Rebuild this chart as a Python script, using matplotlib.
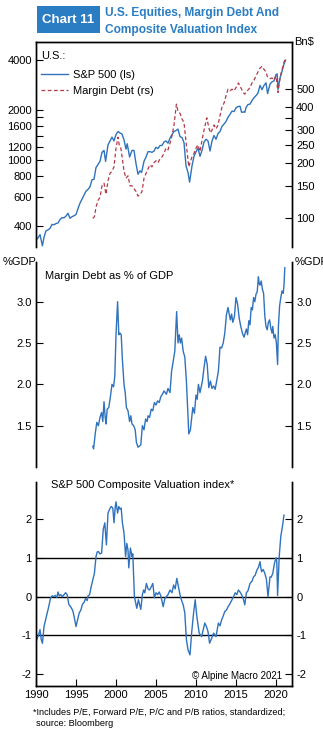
import numpy as np
import matplotlib
matplotlib.use('Agg')
import matplotlib.pyplot as plt
from matplotlib.ticker import FixedLocator, NullLocator, FixedFormatter

plt.rcParams['font.family'] = ['Liberation Sans', 'DejaVu Sans']
plt.rcParams['axes.unicode_minus'] = False

# S&P 500 (ls)
spx_t = [1990.0, 1990.25, 1990.5, 1990.8, 1991.0, 1991.25, 1991.5, 1991.75, 1992.0, 1992.25, 1992.5, 1992.75,
         1993.0, 1993.25, 1993.5, 1993.75, 1994.0, 1994.25, 1994.5, 1994.75, 1995.0, 1995.25, 1995.5, 1995.75,
         1996.0, 1996.25, 1996.5, 1996.75, 1997.0, 1997.25, 1997.5, 1997.75, 1998.0, 1998.25, 1998.5, 1998.7,
         1999.0, 1999.25, 1999.5, 1999.75, 2000.0, 2000.25, 2000.5, 2000.75, 2001.0, 2001.25, 2001.4, 2001.7,
         2002.0, 2002.25, 2002.5, 2002.75, 2003.0, 2003.2, 2003.5, 2003.75, 2004.0, 2004.25, 2004.5, 2004.75,
         2005.0, 2005.25, 2005.5, 2005.75, 2006.0, 2006.25, 2006.5, 2006.75, 2007.0, 2007.25, 2007.5, 2007.75,
         2008.0, 2008.25, 2008.5, 2008.75, 2009.0, 2009.2, 2009.5, 2009.75, 2010.0, 2010.25, 2010.5, 2010.75,
         2011.0, 2011.25, 2011.5, 2011.75, 2012.0, 2012.25, 2012.5, 2012.75, 2013.0, 2013.25, 2013.5, 2013.75,
         2014.0, 2014.25, 2014.5, 2014.75, 2015.0, 2015.25, 2015.5, 2015.7, 2016.0, 2016.1, 2016.25, 2016.5,
         2016.75, 2017.0, 2017.25, 2017.5, 2017.75, 2018.0, 2018.25, 2018.5, 2018.75, 2018.95, 2019.25, 2019.5,
         2019.75, 2020.0, 2020.15, 2020.25, 2020.5, 2020.75, 2021.0, 2021.2]
spx_v = [330, 340, 356, 305, 343, 375, 380, 388, 410, 408, 415, 418,
         438, 450, 449, 460, 478, 446, 456, 462, 470, 510, 550, 582,
         615, 650, 665, 690, 760, 765, 900, 940, 980, 1110, 1140, 980,
         1230, 1300, 1370, 1300, 1420, 1480, 1450, 1430, 1320, 1160, 1250, 1040,
         1140, 1140, 950, 820, 860, 840, 980, 1040, 1120, 1120, 1110, 1130,
         1190, 1170, 1220, 1220, 1280, 1300, 1260, 1350, 1420, 1480, 1500, 1530,
         1380, 1360, 1270, 920, 840, 735, 920, 1050, 1120, 1180, 1050, 1140,
         1280, 1330, 1300, 1130, 1300, 1400, 1330, 1440, 1480, 1590, 1640, 1700,
         1800, 1880, 1960, 1950, 2050, 2090, 2100, 1930, 1940, 1930, 2060, 2150,
         2160, 2270, 2360, 2430, 2520, 2800, 2640, 2800, 2900, 2500, 2850, 2940,
         2980, 3250, 3280, 2650, 3100, 3400, 3760, 3970]

# Margin debt, Bn$ (rs)
mdebt_t = [1997.1, 1997.3, 1997.5, 1997.75, 1998.0, 1998.25, 1998.5, 1998.75, 1999.0, 1999.25, 1999.5, 1999.75,
           2000.0, 2000.25, 2000.4, 2000.6, 2000.8, 2001.0, 2001.25, 2001.5, 2001.75, 2002.0, 2002.25, 2002.5,
           2002.75, 2003.0, 2003.25, 2003.5, 2003.75, 2004.0, 2004.25, 2004.5, 2004.75, 2005.0, 2005.25, 2005.5,
           2005.75, 2006.0, 2006.25, 2006.5, 2006.75, 2007.0, 2007.25, 2007.55, 2007.75, 2008.0, 2008.25, 2008.5,
           2008.75, 2009.1, 2009.25, 2009.5, 2009.75, 2010.0, 2010.25, 2010.5, 2010.75, 2011.0, 2011.35, 2011.6,
           2011.8, 2012.0, 2012.25, 2012.5, 2012.75, 2013.0, 2013.25, 2013.5, 2013.75, 2014.0, 2014.25, 2014.5,
           2014.75, 2015.0, 2015.3, 2015.6, 2015.9, 2016.1, 2016.3, 2016.5, 2016.75, 2017.0, 2017.25, 2017.5,
           2017.75, 2018.0, 2018.25, 2018.5, 2018.75, 2018.95, 2019.25, 2019.5, 2019.75, 2020.0, 2020.25, 2020.4,
           2020.6, 2020.8, 2021.0, 2021.15]
mdebt_v = [100, 102, 115, 125, 130, 150, 155, 135, 160, 175, 180, 190,
           240, 275, 250, 240, 210, 180, 165, 170, 150, 150, 145, 140,
           132, 134, 140, 165, 175, 185, 195, 190, 200, 205, 200, 210,
           215, 225, 240, 235, 255, 280, 320, 415, 380, 370, 345, 330,
           260, 190, 200, 215, 225, 240, 250, 230, 265, 300, 350, 310,
           290, 300, 320, 305, 320, 360, 400, 420, 460, 500, 490, 500,
           490, 510, 540, 510, 480, 470, 485, 495, 510, 540, 560, 590,
           620, 650, 665, 640, 620, 580, 570, 575, 560, 590, 480, 540,
           600, 650, 700, 730]

# Margin debt as % of GDP
mgdp_t = [1997.1, 1997.2, 1997.4, 1997.6, 1997.8, 1998.0, 1998.2, 1998.35, 1998.5, 1998.65, 1998.75, 1998.9,
          1999.1, 1999.3, 1999.5, 1999.7, 1999.85, 2000.0, 2000.2, 2000.35, 2000.5, 2000.65, 2000.8, 2001.0,
          2001.15, 2001.3, 2001.5, 2001.7, 2001.85, 2002.0, 2002.2, 2002.4, 2002.55, 2002.75, 2002.9, 2003.1,
          2003.3, 2003.5, 2003.7, 2003.9, 2004.0, 2004.2, 2004.4, 2004.6, 2004.8, 2005.0, 2005.2, 2005.4,
          2005.6, 2005.8, 2006.0, 2006.3, 2006.5, 2006.75, 2006.95, 2007.15, 2007.35, 2007.58, 2007.75, 2007.9,
          2008.05, 2008.2, 2008.4, 2008.6, 2008.8, 2009.1, 2009.3, 2009.6, 2009.8, 2010.0, 2010.15, 2010.3,
          2010.5, 2010.8, 2011.0, 2011.2, 2011.4, 2011.6, 2011.8, 2012.0, 2012.2, 2012.4, 2012.6, 2012.8,
          2013.0, 2013.2, 2013.4, 2013.6, 2013.8, 2014.0, 2014.15, 2014.3, 2014.45, 2014.6, 2014.8, 2015.0,
          2015.2, 2015.4, 2015.6, 2015.8, 2016.0, 2016.15, 2016.3, 2016.45, 2016.6, 2016.75, 2016.9, 2017.05,
          2017.2, 2017.35, 2017.5, 2017.65, 2017.8, 2017.9, 2018.0, 2018.15, 2018.3, 2018.45, 2018.6, 2018.75,
          2018.9, 2019.05, 2019.2, 2019.35, 2019.5, 2019.6, 2019.75, 2019.9, 2020.05, 2020.2, 2020.3, 2020.45,
          2020.6, 2020.75, 2020.9, 2021.0, 2021.1]
mgdp_v = [1.25, 1.22, 1.4, 1.54, 1.5, 1.6, 1.66, 1.55, 1.79, 1.6, 1.52, 1.7,
          1.72, 1.85, 2.0, 1.97, 2.1, 2.6, 3.0, 2.6, 2.62, 2.6, 2.3, 2.0,
          1.9, 1.72, 1.68, 1.55, 1.62, 1.52, 1.5, 1.45, 1.3, 1.24, 1.25, 1.27,
          1.5, 1.45, 1.58, 1.55, 1.62, 1.6, 1.7, 1.68, 1.78, 1.75, 1.8, 1.78,
          1.85, 1.88, 1.92, 1.88, 1.95, 1.9, 2.16, 2.28, 2.4, 2.88, 2.5, 2.6,
          2.5, 2.56, 2.4, 2.33, 2.04, 1.4, 1.45, 1.72, 1.65, 1.87, 1.82, 2.0,
          1.9, 2.04, 2.2, 2.34, 2.24, 1.96, 2.04, 1.95, 1.98, 1.94, 2.05, 2.16,
          2.45, 2.44, 2.5, 2.62, 2.84, 2.93, 2.85, 2.78, 2.85, 2.75, 2.82, 3.05,
          2.97, 2.8, 2.7, 2.62, 2.57, 2.62, 2.67, 2.6, 2.77, 2.72, 2.93, 2.9,
          3.05, 3.0, 3.09, 3.12, 3.3, 3.22, 3.2, 3.25, 3.15, 3.1, 2.83, 2.7,
          2.66, 2.75, 2.78, 2.68, 2.62, 2.7, 2.56, 2.6, 2.5, 2.24, 2.7, 2.95,
          3.05, 3.13, 3.1, 3.2, 3.41]

# S&P 500 composite valuation index (standardized)
val_t = [1990.0, 1990.1, 1990.3, 1990.5, 1990.65, 1990.8, 1990.9, 1991.0, 1991.2, 1991.4, 1991.6, 1991.8,
         1992.0, 1992.2, 1992.4, 1992.6, 1992.75, 1992.9, 1993.1, 1993.3, 1993.5, 1993.7, 1993.9, 1994.1,
         1994.3, 1994.6, 1994.8, 1995.0, 1995.2, 1995.4, 1995.6, 1995.8, 1996.0, 1996.2, 1996.4, 1996.5,
         1996.7, 1996.9, 1997.1, 1997.3, 1997.5, 1997.65, 1997.8, 1998.0, 1998.2, 1998.4, 1998.6, 1998.8,
         1999.0, 1999.2, 1999.4, 1999.6, 1999.75, 1999.9, 2000.0, 2000.2, 2000.35, 2000.5, 2000.65, 2000.8,
         2001.0, 2001.2, 2001.35, 2001.5, 2001.6, 2001.8, 2002.0, 2002.1, 2002.3, 2002.6, 2002.8, 2003.1,
         2003.3, 2003.45, 2003.6, 2003.8, 2004.0, 2004.2, 2004.4, 2004.6, 2004.8, 2005.0, 2005.2, 2005.4,
         2005.6, 2005.9, 2006.1, 2006.3, 2006.5, 2006.75, 2007.0, 2007.2, 2007.4, 2007.6, 2007.8, 2008.0,
         2008.2, 2008.4, 2008.6, 2008.8, 2009.0, 2009.25, 2009.45, 2009.7, 2009.9, 2010.1, 2010.4, 2010.7,
         2010.9, 2011.1, 2011.3, 2011.5, 2011.7, 2011.9, 2012.2, 2012.5, 2012.8, 2013.0, 2013.2, 2013.4,
         2013.6, 2013.8, 2014.0, 2014.2, 2014.5, 2014.7, 2014.9, 2015.1, 2015.3, 2015.5, 2015.7, 2015.9,
         2016.1, 2016.3, 2016.5, 2016.75, 2017.0, 2017.2, 2017.4, 2017.6, 2017.8, 2018.0, 2018.1, 2018.2,
         2018.4, 2018.6, 2018.8, 2019.0, 2019.25, 2019.4, 2019.6, 2019.8, 2020.0, 2020.1, 2020.2, 2020.4,
         2020.6, 2020.8, 2021.0]
val_v = [-1.18, -1.1, -1.0, -0.85, -1.1, -1.2, -1.0, -0.77, -0.6, -0.42, -0.25, -0.05,
         0.02, 0.0, 0.03, -0.02, 0.12, 0.02, 0.05, 0.0, 0.05, 0.1, 0.05, -0.2,
         -0.25, -0.36, -0.55, -0.77, -0.6, -0.42, -0.35, -0.2, -0.15, -0.05, -0.1, 0.02,
         0.05, 0.26, 0.43, 0.6, 1.03, 1.15, 1.16, 1.1, 1.12, 1.72, 1.9, 1.33,
         2.15, 2.25, 2.32, 2.28, 1.9, 2.3, 2.44, 2.15, 2.32, 2.25, 2.28, 1.9,
         1.64, 1.03, 1.37, 1.2, 0.74, 1.25, 1.03, 1.1, 0.0, -0.3, -0.08, -0.33,
         0.05, 0.17, 0.1, 0.34, 0.2, 0.17, 0.25, 0.34, -0.03, 0.1, 0.05, 0.12,
         0.02, -0.26, -0.05, 0.0, 0.05, 0.17, 0.1, 0.3, 0.2, 0.47, 0.26, 0.05,
         -0.1, -0.21, -0.42, -1.1, -1.37, -1.5, -0.94, -0.42, -0.08, -0.5, -0.94, -1.03,
         -0.85, -0.68, -0.77, -0.9, -1.2, -1.1, -0.94, -1.03, -0.68, -0.75, -0.6, -0.5,
         -0.38, -0.35, -0.26, -0.2, -0.08, 0.0, 0.1, 0.05, 0.17, 0.12, 0.05, -0.05,
         -0.21, 0.1, 0.15, 0.34, 0.4, 0.51, 0.55, 0.68, 0.75, 0.9, 0.75, 0.64,
         0.7, 0.6, 0.45, 0.0, 0.51, 0.5, 0.6, 0.85, 1.0, 0.9, 0.03, 1.03,
         1.55, 1.8, 2.1]

blue = '#2f72bd'
red = '#b23a48'
W, H = 323, 732


def rect(x0, y0, x1, y1):
    # pixel box (from top-left) -> figure fraction
    return [x0 / W, 1 - y1 / H, (x1 - x0) / W, (y1 - y0) / H]


fig = plt.figure(figsize=(W / 100, H / 100), dpi=100)
fs = 8

# title
fig.patches.append(plt.Rectangle((37 / W, 1 - 33 / H), 63 / W, 27 / H, transform=fig.transFigure,
                                 facecolor='#2a7cc3', edgecolor='none'))
fig.text(68 / W, 1 - 20 / H, 'Chart 11', color='white', fontsize=9.5, fontweight='bold', ha='center', va='center')
fig.text(105 / W, 1 - 13 / H, 'U.S. Equities, Margin Debt And', color='#2a7cc3', fontsize=8.6,
         fontweight='bold', ha='left', va='center')
fig.text(105 / W, 1 - 30 / H, 'Composite Valuation Index', color='#2a7cc3', fontsize=8.6,
         fontweight='bold', ha='left', va='center')


def style(ax, twin):
    for a in (ax, twin):
        a.tick_params(direction='in', length=5, width=0.8, labelsize=fs, pad=3)
        for s in a.spines.values():
            s.set_linewidth(1.0)
    ax.set_xlim(1990, 2022)


# ---- top panel
ax1 = fig.add_axes(rect(36, 42, 292, 247))
ax1r = ax1.twinx()
l1, = ax1.plot(spx_t, spx_v, color=blue, lw=1.0, label='S&P 500 (ls)')
l2, = ax1r.plot(mdebt_t, mdebt_v, color=red, lw=0.9, ls=(0, (3, 2)), label='Margin Debt (rs)')
ax1.set_yscale('log')
ax1r.set_yscale('log')
ax1.set_ylim(300, 5100)
ax1r.set_ylim(70, 900)
lt = [400, 600, 800, 1000, 1200, 1400, 1600, 1800, 2000, 4000]
ax1.yaxis.set_major_locator(FixedLocator(lt))
ax1.yaxis.set_major_formatter(FixedFormatter(['' if v in (1400, 1800) else str(v) for v in lt]))
ax1.yaxis.set_minor_locator(NullLocator())
rt = [100, 150, 200, 250, 300, 350, 400, 500]
ax1r.yaxis.set_major_locator(FixedLocator(rt))
ax1r.yaxis.set_major_formatter(FixedFormatter(['' if v == 350 else str(v) for v in rt]))
ax1r.yaxis.set_minor_locator(NullLocator())
style(ax1, ax1r)
for a in (ax1, ax1r):
    a.spines['bottom'].set_visible(False)
ax1.set_xticks([])
leg = ax1r.legend(handles=[l1, l2], title='U.S.:', loc='upper left', bbox_to_anchor=(0.02, 0.955),
                  frameon=False, fontsize=fs, title_fontsize=fs, handlelength=2.4, handletextpad=0.45,
                  borderaxespad=0.0, borderpad=0.0, labelspacing=0.55, alignment='left')
leg._legend_box.sep = 6
fig.text(294 / W, 1 - 42 / H, 'Bn$', fontsize=fs, ha='left', va='center')

# ---- middle panel
ax2 = fig.add_axes(rect(36, 262, 292, 467))
ax2r = ax2.twinx()
ax2.plot(mgdp_t, mgdp_v, color=blue, lw=1.0)
for a in (ax2, ax2r):
    a.set_ylim(1.0, 3.48)
    a.set_yticks([1.5, 2.0, 2.5, 3.0])
    a.set_yticklabels(['1.5', '2.0', '2.5', '3.0'])
    a.spines['top'].set_visible(False)
    a.spines['bottom'].set_visible(False)
style(ax2, ax2r)
ax2.set_xticks([])
ax2.text(0.035, 0.93, 'Margin Debt as % of GDP', transform=ax2.transAxes, fontsize=fs, va='center')
fig.text(3 / W, 1 - 262 / H, '%GDP', fontsize=fs, ha='left', va='center')
fig.text(295 / W, 1 - 262 / H, '%GDP', fontsize=fs, ha='left', va='center')

# ---- bottom panel
ax3 = fig.add_axes(rect(36, 482, 292, 686))
ax3r = ax3.twinx()
for y in (1, 0, -1):
    ax3.axhline(y, color='black', lw=1.0, zorder=1)
ax3.plot(val_t, val_v, color=blue, lw=1.0, zorder=2)
for a in (ax3, ax3r):
    a.set_ylim(-2.3, 2.95)
    a.set_yticks([-2, -1, 0, 1, 2])
    a.spines['top'].set_visible(False)
style(ax3, ax3r)
ax3.set_xticks([1990, 1995, 2000, 2005, 2010, 2015, 2020])
ax3.text(0.06, 0.985, 'S&P 500 Composite Valuation index*', transform=ax3.transAxes, fontsize=fs, va='center')
ax3.text(0.96, 0.05, '\u00a9 Alpine Macro 2021', transform=ax3.transAxes, fontsize=7, ha='right', va='center')

fig.text(33 / W, 1 - 712 / H, '*Includes P/E, Forward P/E, P/C and P/B ratios, standardized;', fontsize=6.6,
         ha='left', va='center')
fig.text(36 / W, 1 - 724 / H, 'source: Bloomberg', fontsize=6.6, ha='left', va='center')

fig.savefig('out.png', dpi=100)
